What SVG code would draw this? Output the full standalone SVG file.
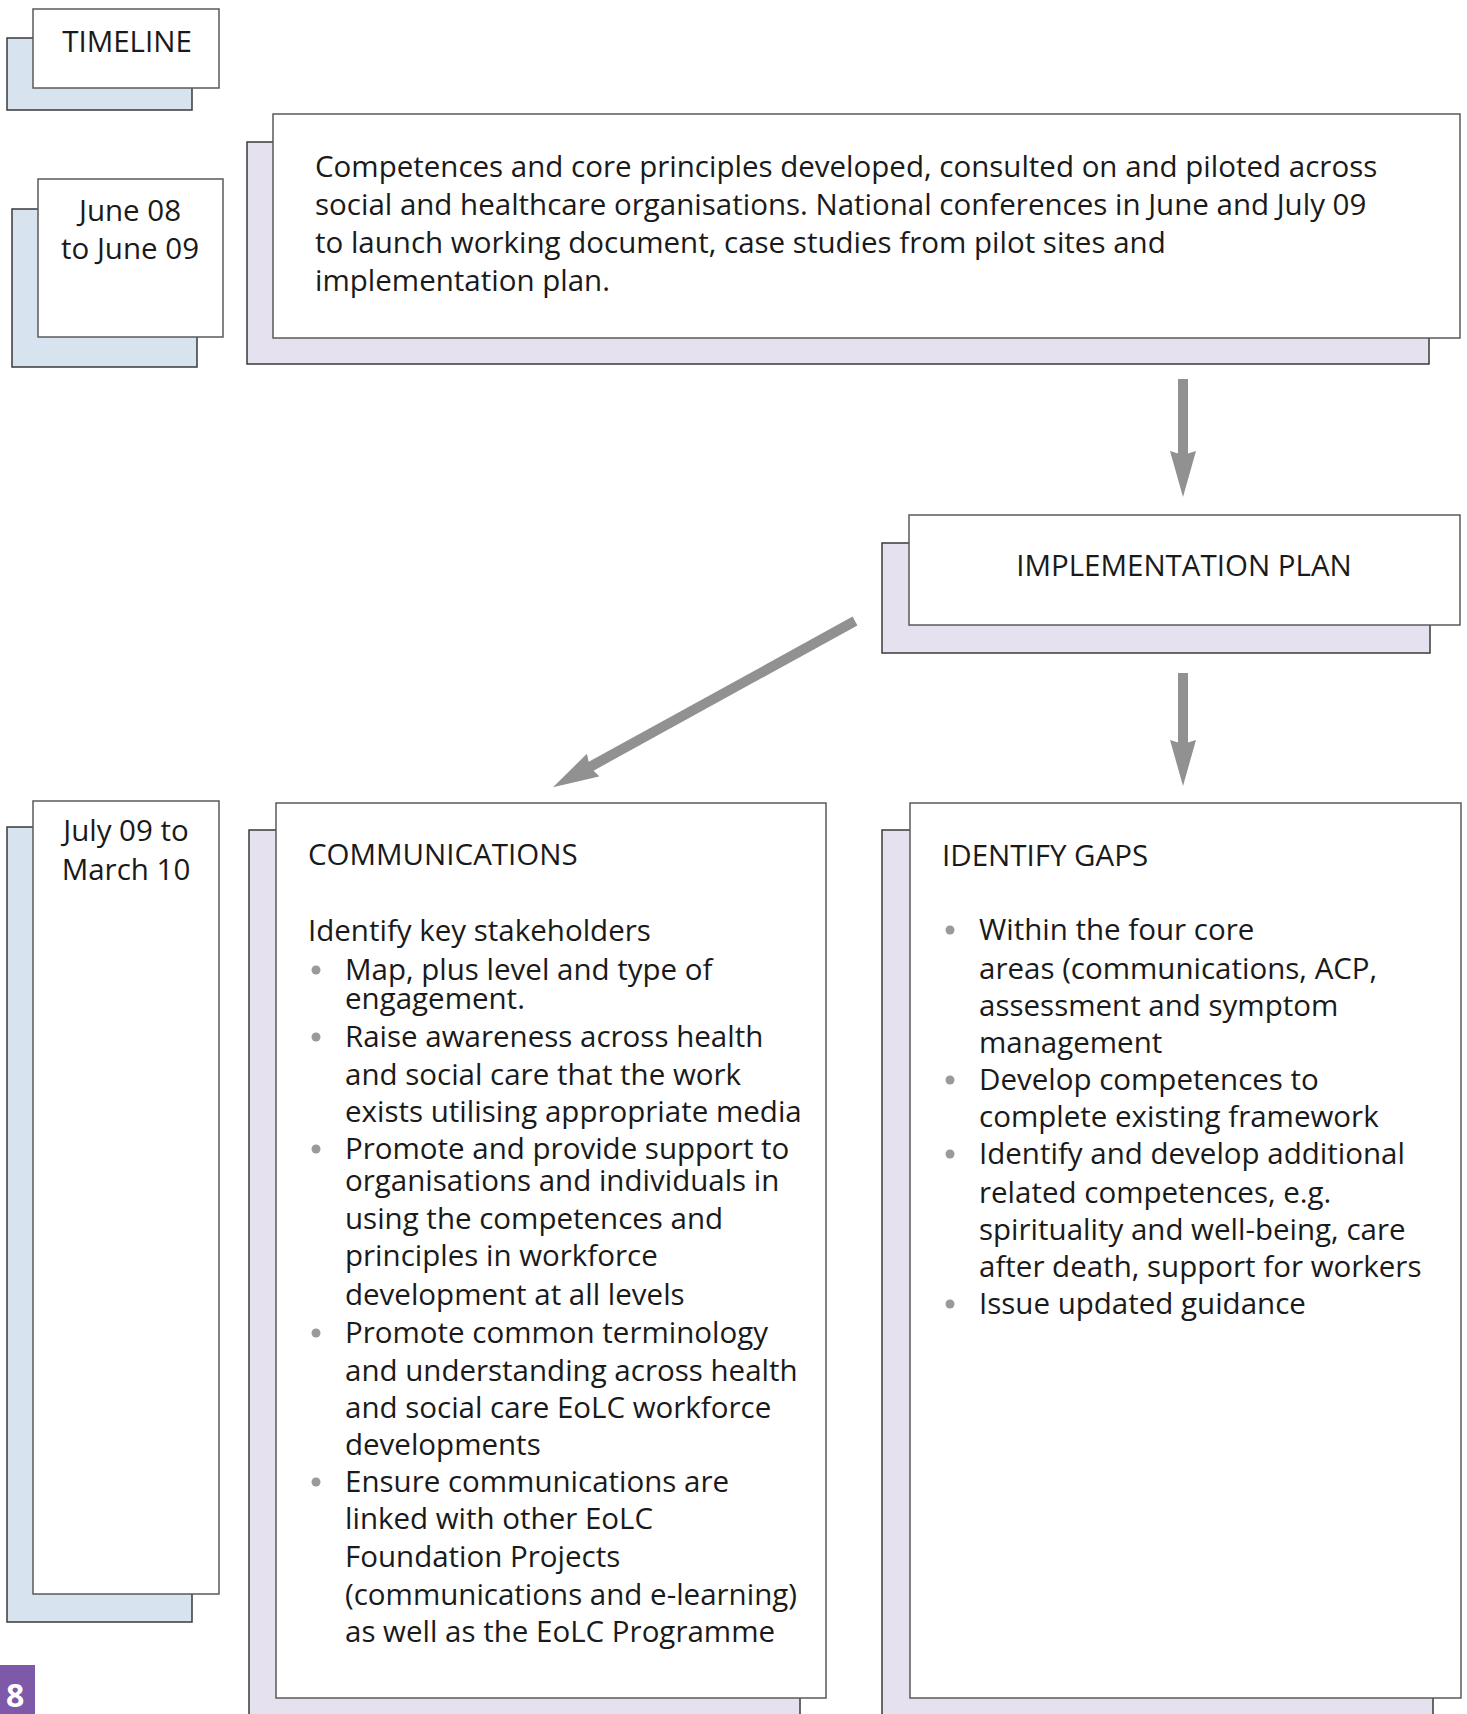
<svg xmlns="http://www.w3.org/2000/svg" width="1467" height="1714" viewBox="0 0 1467 1714">
<style>
  .bg { fill: #ffffff; }
  .sh-blue { fill: #d7e4f0; stroke: #3a3a3a; stroke-width: 1.5; }
  .sh-purple { fill: #e6e1ef; stroke: #3a3a3a; stroke-width: 1.5; }
  .card { fill: #ffffff; stroke: #5a5a5a; stroke-width: 1.5; }
  text { font-family: "Open Sans", "Noto Sans", "Liberation Sans", sans-serif; font-size: 29.5px; fill: #1a1a1a; }
  .c { text-anchor: middle; }
  .dot { fill: #9a9a9a; }
  .conn { stroke: #919191; stroke-width: 10; fill: none; marker-end: url(#head); }
  .pg { fill: #7e58a9; }
  .pgt { fill: #ffffff; font-weight: bold; font-size: 32px; }
</style>
<defs>
  <marker id="head" viewBox="0 0 46 26" refX="6" refY="13" markerWidth="46" markerHeight="26" markerUnits="userSpaceOnUse" orient="auto">
    <path d="M0,0 L46,13 L0,26 L4,13 Z" fill="#919191"/>
  </marker>
</defs>
<rect class="bg" x="0" y="0" width="1467" height="1714"/>

<g id="timeline">
  <rect class="sh-blue" x="7" y="38" width="185" height="72"/>
  <rect class="card" x="33" y="9" width="186" height="79"/>
  <text class="c" x="127" y="52">TIMELINE</text>
</g>

<g id="june">
  <rect class="sh-blue" x="12" y="209" width="185" height="158"/>
  <rect class="card" x="38" y="179" width="185" height="158"/>
  <text class="c" x="130" y="221">June 08</text>
  <text class="c" x="130" y="259">to June 09</text>
</g>

<g id="competences">
  <rect class="sh-purple" x="247" y="142" width="1182" height="222"/>
  <rect class="card" x="273" y="114" width="1187" height="224"/>
  <text x="315" y="177">Competences and core principles developed, consulted on and piloted across</text>
  <text x="315" y="215">social and healthcare organisations. National conferences in June and July 09</text>
  <text x="315" y="253">to launch working document, case studies from pilot sites and</text>
  <text x="315" y="291">implementation plan.</text>
</g>

<g id="implementation">
  <rect class="sh-purple" x="882" y="543" width="548" height="110"/>
  <rect class="card" x="909" y="515" width="551" height="110"/>
  <text class="c" x="1184" y="576">IMPLEMENTATION PLAN</text>
</g>

<g id="july">
  <rect class="sh-blue" x="7" y="827" width="185" height="795"/>
  <rect class="card" x="33" y="801" width="186" height="793"/>
  <text class="c" x="126" y="841">July 09 to</text>
  <text class="c" x="126" y="880">March 10</text>
</g>

<g id="communications">
  <rect class="sh-purple" x="249" y="830" width="551" height="900"/>
  <rect class="card" x="276" y="803" width="550" height="895"/>
  <text x="308" y="865">COMMUNICATIONS</text>
  <text x="308" y="941">Identify key stakeholders</text>
  <circle class="dot" cx="316" cy="970" r="4.5"/>
  <text x="345" y="980">Map, plus level and type of</text>
  <text x="345" y="1009">engagement.</text>
  <circle class="dot" cx="316" cy="1037" r="4.5"/>
  <text x="345" y="1047">Raise awareness across health</text>
  <text x="345" y="1085">and social care that the work</text>
  <text x="345" y="1122">exists utilising appropriate media</text>
  <circle class="dot" cx="316" cy="1149" r="4.5"/>
  <text x="345" y="1159">Promote and provide support to</text>
  <text x="345" y="1191">organisations and individuals in</text>
  <text x="345" y="1229">using the competences and</text>
  <text x="345" y="1266">principles in workforce</text>
  <text x="345" y="1305">development at all levels</text>
  <circle class="dot" cx="316" cy="1333" r="4.5"/>
  <text x="345" y="1343">Promote common terminology</text>
  <text x="345" y="1381">and understanding across health</text>
  <text x="345" y="1418">and social care EoLC workforce</text>
  <text x="345" y="1455">developments</text>
  <circle class="dot" cx="316" cy="1482" r="4.5"/>
  <text x="345" y="1492">Ensure communications are</text>
  <text x="345" y="1529">linked with other EoLC</text>
  <text x="345" y="1567">Foundation Projects</text>
  <text x="345" y="1605">(communications and e-learning)</text>
  <text x="345" y="1642">as well as the EoLC Programme</text>
</g>

<g id="gaps">
  <rect class="sh-purple" x="882" y="830" width="551" height="900"/>
  <rect class="card" x="910" y="803" width="551" height="895"/>
  <text x="942" y="866">IDENTIFY GAPS</text>
  <circle class="dot" cx="950" cy="930" r="4.5"/>
  <text x="979" y="940">Within the four core</text>
  <text x="979" y="979">areas (communications, ACP,</text>
  <text x="979" y="1016">assessment and symptom</text>
  <text x="979" y="1053">management</text>
  <circle class="dot" cx="950" cy="1080" r="4.5"/>
  <text x="979" y="1090">Develop competences to</text>
  <text x="979" y="1127">complete existing framework</text>
  <circle class="dot" cx="950" cy="1154" r="4.5"/>
  <text x="979" y="1164">Identify and develop additional</text>
  <text x="979" y="1203">related competences, e.g.</text>
  <text x="979" y="1240">spirituality and well-being, care</text>
  <text x="979" y="1277">after death, support for workers</text>
  <circle class="dot" cx="950" cy="1304" r="4.5"/>
  <text x="979" y="1314">Issue updated guidance</text>
</g>

<g id="connectors">
  <line class="conn" x1="1183" y1="379" x2="1183" y2="457"/>
  <line class="conn" x1="855" y1="621" x2="588" y2="768"/>
  <line class="conn" x1="1183" y1="673" x2="1183" y2="746"/>
</g>

<g id="page-number">
  <rect class="pg" x="0" y="1665" width="35" height="49"/>
  <text class="pgt" x="6" y="1707">8</text>
</g>
</svg>
